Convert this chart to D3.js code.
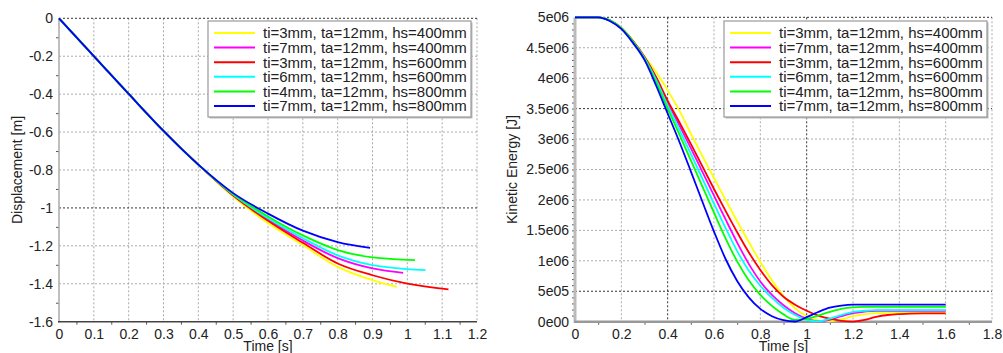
<!DOCTYPE html>
<html>
<head>
<meta charset="utf-8">
<script src="https://cdn.jsdelivr.net/npm/d3@7"></script>
<style>
  body { margin: 0; background: #fff; }
  text { font-family: "Liberation Sans", Arial, sans-serif; fill: #222; }
</style>
</head>
<body>
<script>
// legend / series
var legendLabels = [
    "ti=3mm, ta=12mm, hs=400mm",
    "ti=7mm, ta=12mm, hs=400mm",
    "ti=3mm, ta=12mm, hs=600mm",
    "ti=6mm, ta=12mm, hs=600mm",
    "ti=4mm, ta=12mm, hs=800mm",
    "ti=7mm, ta=12mm, hs=800mm"
];
var seriesColors = ["#ffff00", "#ff00ff", "#ff0000", "#00ffff", "#00ff00", "#0000ff"];

// displacement [m] vs time [s], pairs of [t, d]
var dispYellow  = [[0,0],[0.1,-0.2],[0.2,-0.399],[0.3,-0.594],[0.4,-0.772],[0.5,-0.94],[0.6,-1.08],[0.7,-1.196],[0.8,-1.311],[0.9,-1.381],[0.97,-1.416]];
var dispMagenta = [[0,0],[0.1,-0.2],[0.2,-0.399],[0.3,-0.594],[0.4,-0.772],[0.5,-0.932],[0.6,-1.06],[0.7,-1.172],[0.8,-1.265],[0.9,-1.319],[0.988,-1.342]];
var dispRed     = [[0,0],[0.1,-0.2],[0.2,-0.399],[0.3,-0.594],[0.4,-0.772],[0.5,-0.935],[0.6,-1.068],[0.7,-1.184],[0.8,-1.293],[0.9,-1.355],[1.0,-1.399],[1.118,-1.429]];
var dispCyan    = [[0,0],[0.1,-0.2],[0.2,-0.399],[0.3,-0.594],[0.4,-0.772],[0.5,-0.93],[0.6,-1.055],[0.7,-1.16],[0.8,-1.25],[0.9,-1.302],[1.0,-1.323],[1.052,-1.328]];
var dispGreen   = [[0,0],[0.1,-0.2],[0.2,-0.399],[0.3,-0.594],[0.4,-0.772],[0.5,-0.926],[0.6,-1.045],[0.7,-1.145],[0.8,-1.222],[0.9,-1.261],[1.022,-1.275]];
var dispBlue    = [[0,0],[0.1,-0.2],[0.2,-0.399],[0.3,-0.594],[0.4,-0.772],[0.5,-0.922],[0.6,-1.03],[0.7,-1.12],[0.8,-1.18],[0.893,-1.211]];

// kinetic energy [MJ] on a shared time grid [s]
var keTime    = [0,0.05,0.1,0.15,0.2,0.25,0.3,0.35,0.4,0.45,0.5,0.55,0.6,0.65,0.7,0.75,0.8,0.85,0.9,0.95,1.0,1.05,1.1,1.15,1.2,1.25,1.3,1.35,1.4,1.5,1.6];
var keYellow  = [5.0,5.0,5.0,4.95,4.83,4.62,4.36,4.1,3.8,3.47,3.09,2.72,2.36,2.0,1.65,1.31,0.98,0.68,0.42,0.22,0.09,0.02,0.005,0.04,0.09,0.12,0.14,0.15,0.15,0.15,0.15];
var keMagenta = [5.0,5.0,5.0,4.95,4.82,4.61,4.34,4.0,3.6,3.23,2.85,2.46,2.07,1.68,1.3,0.95,0.66,0.44,0.27,0.14,0.05,0.005,0.03,0.09,0.14,0.165,0.18,0.18,0.18,0.18,0.18];
var keRed     = [5.0,5.0,5.0,4.95,4.82,4.61,4.35,4.02,3.63,3.28,2.92,2.55,2.18,1.82,1.47,1.14,0.85,0.6,0.41,0.28,0.18,0.1,0.05,0.015,0.002,0.03,0.08,0.11,0.125,0.137,0.137];
var keCyan    = [5.0,5.0,5.0,4.95,4.82,4.6,4.33,3.97,3.55,3.16,2.76,2.35,1.94,1.54,1.16,0.84,0.59,0.39,0.23,0.11,0.03,0.005,0.05,0.11,0.16,0.18,0.19,0.19,0.19,0.19,0.19];
var keGreen   = [5.0,5.0,5.0,4.95,4.82,4.6,4.31,3.93,3.5,3.08,2.65,2.22,1.79,1.37,0.99,0.68,0.44,0.26,0.12,0.03,0.045,0.1,0.16,0.21,0.236,0.243,0.245,0.245,0.245,0.245,0.245];
var keBlue    = [5.0,5.0,5.0,4.94,4.81,4.58,4.3,3.88,3.42,2.96,2.47,1.97,1.48,1.03,0.67,0.4,0.21,0.09,0.025,0.003,0.075,0.16,0.23,0.265,0.28,0.28,0.28,0.28,0.28,0.28,0.28];

// ticks
var dispXTicks = [0,0.1,0.2,0.3,0.4,0.5,0.6,0.7,0.8,0.9,1,1.1,1.2];
var dispYTicks = [0,-0.2,-0.4,-0.6,-0.8,-1,-1.2,-1.4,-1.6];
var keXTicks = [0,0.2,0.4,0.6,0.8,1,1.2,1.4,1.6,1.8];
var keYTicks = [0,5e5,1e6,1.5e6,2e6,2.5e6,3e6,3.5e6,4e6,4.5e6,5e6];
var keYLabels = ["0e00","5e05","1e06","1.5e06","2e06","2.5e06","3e06","3.5e06","4e06","4.5e06","5e06"];

var svg = d3.select("body").append("svg")
    .attr("width", 1003)
    .attr("height", 353);

var line = d3.line().curve(d3.curveMonotoneX);

function drawPanel(p) {
    var x = d3.scaleLinear().domain(p.xDomain).range([p.left, p.right]);
    var y = d3.scaleLinear().domain(p.yDomain).range([p.bottom, p.top]);
    var g = svg.append("g");

    // grid
    g.selectAll(".gx").data(p.xTicks.slice(1)).enter().append("line")
        .attr("x1", function(d) { return x(d); }).attr("x2", function(d) { return x(d); })
        .attr("y1", p.top).attr("y2", p.bottom)
        .attr("stroke", function(d) { return p.darkX.indexOf(d) >= 0 ? "#333" : "#aaa"; })
        .attr("stroke-dasharray", "2,2");
    g.selectAll(".gy").data(p.yTicks.slice(1)).enter().append("line")
        .attr("x1", p.left).attr("x2", p.right)
        .attr("y1", function(d) { return y(d); }).attr("y2", function(d) { return y(d); })
        .attr("stroke", function(d) { return p.darkY.indexOf(d) >= 0 ? "#333" : "#aaa"; })
        .attr("stroke-dasharray", "2,2");

    // axes
    var xAxis = d3.axisBottom(x).tickValues(p.xTicks).tickSize(0).tickPadding(7)
        .tickFormat(function(d) { return String(+d.toFixed(2)); });
    var xa = g.append("g").attr("transform", "translate(0," + p.bottom + ")").call(xAxis);
    xa.select(".domain").remove();
    xa.selectAll("text").attr("font-size", 14).attr("font-family", "Liberation Sans, Arial").attr("fill", "#222");

    var yAxis = d3.axisLeft(y).tickValues(p.yTicks).tickSize(0).tickPadding(6)
        .tickFormat(function(d, i) { return p.yLabels[i]; });
    var ya = g.append("g").attr("transform", "translate(" + p.left + ",0)").call(yAxis);
    ya.select(".domain").remove();
    ya.selectAll("text").attr("font-size", 14).attr("font-family", "Liberation Sans, Arial").attr("fill", "#222");

    // minor ticks
    g.append("g").attr("transform", "translate(" + p.left + ",0)")
        .call(d3.axisLeft(y).tickValues(p.yMinor).tickSize(3).tickFormat(""))
        .call(function(s) { s.select(".domain").remove(); s.selectAll("line").attr("stroke", "#555"); });
    g.append("g").attr("transform", "translate(0," + p.bottom + ")")
        .call(d3.axisBottom(x).tickValues(p.xMinor).tickSize(3).tickFormat(""))
        .call(function(s) { s.select(".domain").remove(); s.selectAll("line").attr("stroke", "#555"); });

    g.append("line").attr("x1", p.left).attr("x2", p.left).attr("y1", p.top).attr("y2", p.bottom + 1)
        .attr("stroke", p.yAxisColor).attr("stroke-width", p.yAxisWidth);
    g.append("line").attr("x1", p.left - 1).attr("x2", p.right).attr("y1", p.bottom).attr("y2", p.bottom)
        .attr("stroke", p.xAxisColor).attr("stroke-width", p.xAxisWidth);

    // series
    p.series.forEach(function(s, i) {
        g.append("path")
            .attr("d", line(s.map(function(d) { return [x(d[0]), y(d[1])]; })))
            .attr("fill", "none")
            .attr("stroke", seriesColors[i])
            .attr("stroke-width", 1.8);
    });

    // axis titles
    g.append("text").text("Time [s]")
        .attr("x", (p.left + p.right) / 2).attr("y", 351)
        .attr("text-anchor", "middle").attr("font-size", 14);
    g.append("text").text(p.yTitle)
        .attr("transform", "translate(" + p.yTitleX + "," + ((p.top + p.bottom) / 2) + ") rotate(-90)")
        .attr("text-anchor", "middle").attr("font-size", 14);

    // legend
    var lg = g.append("g").attr("transform", "translate(" + p.legendX + ",21)");
    lg.append("rect").attr("x", 1.5).attr("y", 1.5).attr("width", 263).attr("height", 96).attr("fill", "#bbb");
    lg.append("rect").attr("width", 263).attr("height", 96).attr("fill", "#fff")
        .attr("stroke", "#999").attr("stroke-width", 1.2);
    legendLabels.forEach(function(l, i) {
        var ly = 12 + i * 14.6;
        lg.append("line").attr("x1", 6).attr("x2", 47).attr("y1", ly).attr("y2", ly)
            .attr("stroke", seriesColors[i]).attr("stroke-width", 2);
        lg.append("text").text(l).attr("x", 55).attr("y", ly).attr("dy", "0.36em")
            .attr("font-size", 15);
    });
}

// left chart: displacement
drawPanel({
    left: 59, right: 477, top: 18.3, bottom: 321.7,
    xDomain: [0, 1.2], yDomain: [-1.6, 0],
    xTicks: dispXTicks, yTicks: dispYTicks.slice().reverse(),
    yLabels: dispYTicks.slice().reverse().map(String),
    xMinor: d3.range(0.05, 1.2, 0.1), yMinor: d3.range(-1.5, 0, 0.2),
    darkX: [], darkY: [0, -1],
    yAxisColor: "#aaa", yAxisWidth: 1.5, xAxisColor: "#444", xAxisWidth: 1.5,
    series: [dispYellow, dispMagenta, dispRed, dispCyan, dispGreen, dispBlue],
    yTitle: "Displacement [m]", yTitleX: 22, legendX: 208
});

// right chart: kinetic energy
function keSeries(v) { return keTime.map(function(t, i) { return [t, v[i] * 1e6]; }); }
drawPanel({
    left: 575, right: 992, top: 17.3, bottom: 321.7,
    xDomain: [0, 1.8], yDomain: [0, 5e6],
    xTicks: keXTicks, yTicks: keYTicks, yLabels: keYLabels,
    xMinor: d3.range(0.1, 1.8, 0.2), yMinor: d3.range(1e5, 5e6, 1e5),
    darkX: [0.4, 1], darkY: [5e6, 3.5e6, 5e5],
    yAxisColor: "#bbb", yAxisWidth: 3, xAxisColor: "#999", xAxisWidth: 2.5,
    series: [keYellow, keMagenta, keRed, keCyan, keGreen, keBlue].map(keSeries),
    yTitle: "Kinetic Energy [J]", yTitleX: 517, legendX: 724
});
</script>
</body>
</html>
